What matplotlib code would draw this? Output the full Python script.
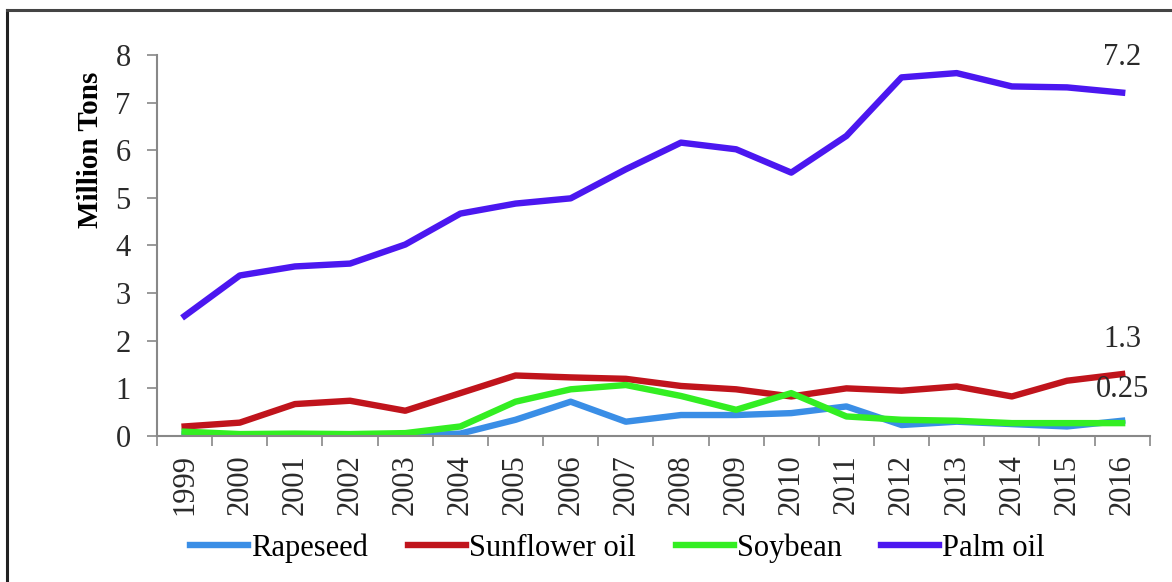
import numpy as np
import matplotlib.pyplot as plt
from matplotlib.lines import Line2D
from matplotlib.ticker import FixedLocator

years = [str(y) for y in range(1999, 2017)]

rapeseed = [0.05, 0.02, 0.02, 0.02, 0.0, 0.05, 0.34, 0.72, 0.30, 0.44,
            0.44, 0.48, 0.62, 0.23, 0.30, 0.25, 0.20, 0.32]
sunflower = [0.20, 0.28, 0.67, 0.74, 0.53, 0.90, 1.27, 1.23, 1.20, 1.05,
             0.98, 0.83, 1.00, 0.95, 1.04, 0.83, 1.16, 1.30]
soybean = [0.09, 0.04, 0.05, 0.04, 0.06, 0.20, 0.72, 0.98, 1.07, 0.84,
           0.55, 0.90, 0.41, 0.34, 0.32, 0.27, 0.27, 0.27]
palm_oil = [2.52, 3.37, 3.56, 3.62, 4.02, 4.67, 4.88, 4.99, 5.60, 6.16,
            6.02, 5.53, 6.30, 7.53, 7.62, 7.34, 7.32, 7.21]

series = [
    ("Rapeseed", rapeseed, "#3a8ee6"),
    ("Sunflower oil", sunflower, "#c0141c"),
    ("Soybean", soybean, "#33ee22"),
    ("Palm oil", palm_oil, "#4b17f0"),
]

end_labels = [("7.2", 7.2, 7.95), ("1.3", 1.3, 2.02), ("0.25", 0.25, 0.97)]

plt.rcParams["font.family"] = ["Liberation Serif", "DejaVu Serif"]

fig = plt.figure(figsize=(11.72, 5.82), dpi=100)
ax = fig.add_axes([0.134, 0.2509, 0.847, 0.6546])

x = np.arange(len(years))
for name, vals, col in series:
    ax.plot(x, vals, color=col, lw=4.6, label=name)

for txt, v, ypos in end_labels:
    ax.text(x[-1], ypos, txt, ha="center", va="center", fontsize=22, color="#2a2a2a")

ax.set_xlim(-0.5, len(years) - 0.5)
ax.set_ylim(0, 8)
ax.set_yticks(range(0, 9))
ax.set_xticks(x)
ax.set_xticklabels(years, rotation=90)
ax.xaxis.set_minor_locator(FixedLocator(np.arange(-0.5, len(years), 1)))
ax.tick_params(axis="x", which="major", length=0, labelsize=22, pad=13, colors="#2a2a2a")
ax.tick_params(axis="x", which="minor", length=7, width=1.2, color="#888888")
ax.tick_params(axis="y", length=7, width=1.2, color="#888888", labelsize=22,
               labelcolor="#2a2a2a", pad=12)

for s in ["top", "right"]:
    ax.spines[s].set_visible(False)
for s in ["left", "bottom"]:
    ax.spines[s].set_color("#888888")
    ax.spines[s].set_linewidth(1.5)

ax.set_ylabel("Million Tons", fontsize=21, fontweight="bold")
ax.yaxis.set_label_coords(-0.053, 0.75)

fig.legend(loc="center", bbox_to_anchor=(0.527, 0.058), ncol=4, frameon=False,
           fontsize=22, handlelength=1.9, handletextpad=0.1, columnspacing=1.3)

# outer frame
fig.add_artist(Line2D([7 / 1172, 7 / 1172], [0, 1 - 10 / 582], transform=fig.transFigure,
                      color="#222222", lw=2.2))
fig.add_artist(Line2D([7 / 1172, 1], [1 - 10 / 582, 1 - 10 / 582], transform=fig.transFigure,
                      color="#444444", lw=2.2))

fig.savefig("out.png", dpi=100)
